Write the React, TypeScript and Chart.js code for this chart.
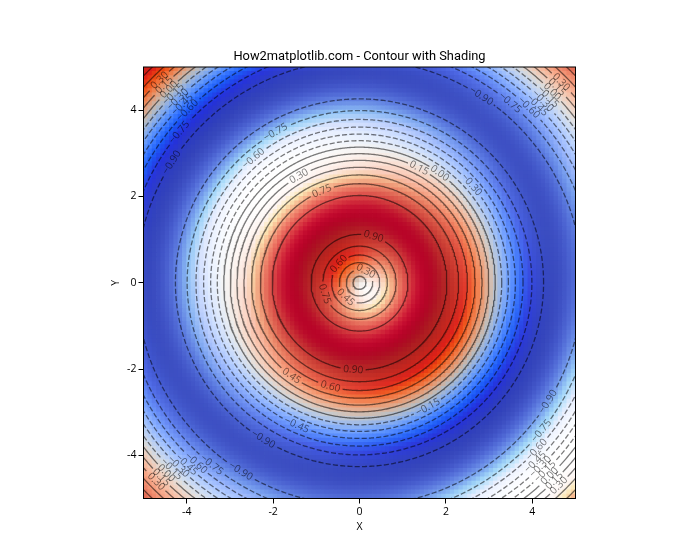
import React, { useEffect, useRef } from "react";
import { Chart, registerables } from "chart.js";

Chart.register(...registerables);

const chartTitle = "How2matplotlib.com - Contour with Shading";
const xAxisTitle = "X";
const yAxisTitle = "Y";
const tickValues = [-4, -2, 0, 2, 4];

// Height of the surface against distance from the centre, read every 0.1 unit.
const profileStep = 0.1;
const profileValues = [
  0, 0.0998, 0.1987, 0.2955, 0.3894, 0.4794, 0.5646, 0.6442, 0.7174, 0.7833,
  0.8415, 0.8912, 0.932, 0.9636, 0.9854, 0.9975, 0.9996, 0.9917, 0.9738, 0.9463,
  0.9093, 0.8632, 0.8085, 0.7457, 0.6755, 0.5985, 0.5155, 0.4274, 0.335, 0.2392,
  0.1411, 0.0416, -0.0584, -0.1577, -0.2555, -0.3508, -0.4425, -0.5298, -0.6119, -0.6878,
  -0.7568, -0.8183, -0.8716, -0.9162, -0.9516, -0.9775, -0.9937, -0.9999, -0.9962, -0.9825,
  -0.9589, -0.9258, -0.8835, -0.8323, -0.7728, -0.7055, -0.6313, -0.5507, -0.4646, -0.3739,
  -0.2794, -0.1822, -0.0831, 0.0168, 0.1165, 0.2151, 0.3115, 0.4048, 0.4941, 0.5784,
  0.657, 0.729, 0.7937,
];

// Colour ramp stops (33 evenly spaced stops).
const rampRed = [
  0.23, 0.266, 0.304, 0.343, 0.383, 0.424, 0.467, 0.51, 0.553, 0.596, 0.639,
  0.681, 0.722, 0.761, 0.799, 0.833, 0.865, 0.898, 0.924, 0.944, 0.959, 0.967,
  0.97, 0.967, 0.958, 0.944, 0.924, 0.899, 0.869, 0.835, 0.796, 0.753, 0.706,
];
const rampGreen = [
  0.299, 0.353, 0.407, 0.459, 0.509, 0.558, 0.605, 0.648, 0.689, 0.726, 0.76,
  0.789, 0.814, 0.834, 0.85, 0.86, 0.865, 0.849, 0.827, 0.801, 0.77, 0.734,
  0.694, 0.65, 0.603, 0.552, 0.497, 0.44, 0.378, 0.313, 0.241, 0.157, 0.016,
];
const rampBlue = [
  0.754, 0.801, 0.845, 0.884, 0.917, 0.946, 0.968, 0.985, 0.995, 1.0, 0.998,
  0.99, 0.977, 0.957, 0.932, 0.901, 0.865, 0.821, 0.775, 0.727, 0.678, 0.629,
  0.579, 0.53, 0.482, 0.434, 0.388, 0.343, 0.3, 0.259, 0.221, 0.184, 0.15,
];

// Contour rings: level and the radius where each one crosses.
const ringLevels = [
  0.15, 0.15, 0.15, 0.3, 0.3, 0.3, 0.45, 0.45, 0.45, 0.6, 0.6, 0.6, 0.75, 0.75, 0.9, 0.9,
  0, 0, -0.15, -0.15, -0.3, -0.3, -0.45, -0.45, -0.6, -0.6, -0.75, -0.75, -0.9, -0.9,
];
const ringRadii = [
  0.151, 2.991, 6.434, 0.305, 2.837, 6.588, 0.467, 2.675, 6.75, 0.644, 2.498, 6.927, 0.848, 2.294, 1.12, 2.022,
  3.142, 6.283, 3.292, 6.133, 3.446, 5.979, 3.608, 5.817, 3.785, 5.64, 3.99, 5.435, 4.261, 5.163,
];

// Contour labels: text, ring radius, direction from centre (degrees, anticlockwise from +X).
const labelTexts = [
  "0.30", "0.15", "0.00", "\u22120.15", "\u22120.30", "\u22120.45", "\u22120.60", "\u22120.75", "\u22120.90",
  "0.30", "0.15", "0.00", "\u22120.15", "\u22120.30", "\u22120.45", "\u22120.60", "\u22120.75", "\u22120.90",
  "0.30", "0.15", "0.00", "\u22120.15", "\u22120.30", "\u22120.45", "\u22120.60", "\u22120.75", "\u22120.90",
  "0.30", "0.15", "0.00", "\u22120.15", "\u22120.30", "\u22120.45", "\u22120.60", "\u22120.75", "\u22120.90",
  "\u22120.75", "\u22120.60", "0.30", "0.75", "0.15", "0.00", "\u22120.30", "0.90", "0.30", "0.60", "0.75", "0.45",
  "0.90", "0.45", "0.60", "\u22120.45", "\u22120.90", "\u22120.15",
];
const labelRadii = [
  6.588, 6.434, 6.283, 6.133, 5.979, 5.817, 5.64, 5.435, 5.163,
  6.588, 6.434, 6.283, 6.133, 5.979, 5.817, 5.64, 5.435, 5.163,
  6.588, 6.434, 6.283, 6.133, 5.979, 5.817, 5.64, 5.435, 5.163,
  6.588, 6.434, 6.283, 6.133, 5.979, 5.817, 5.64, 5.435, 5.163,
  3.99, 3.785, 2.837, 2.294, 2.991, 3.142, 3.446, 1.12, 0.305, 0.644, 0.848, 0.467,
  2.022, 2.675, 2.498, 3.608, 4.261, 3.292,
];
const labelAngles = [
  134.6, 134.6, 134.6, 134.6, 134.7, 134.8, 134.9, 140.1, 147.3,
  44.9, 44.8, 44.8, 44.6, 44.8, 45, 46, 50.1, 56.9,
  224.4, 224.5, 224.6, 224.8, 225.5, 226.5, 227.9, 231, 237.8,
  -45.5, -45.5, -45.5, -45.5, -45.5, -45.6, -43.3, -39.2, -32.3,
  119.1, 130.4, 119.6, 112.3, 62.6, 53.8, 41.2, 73.2, 62, 137.4, 198, 226.4,
  265.9, 233.9, 254.4, 246.2, 238.4, 298.8,
];

const FONT = '"Open Sans", "Noto Sans", sans-serif';
const TITLE_FONT = 'Roboto, "Open Sans", sans-serif';
const CELLS = 100;
const UNIT_PX = 43.2;
const LINE_COLOR = "rgba(0,0,0,0.52)";
const LABEL_COLOR = "rgba(0,0,0,0.55)";

function profileAt(r: number) {
  const p = r / profileStep;
  const i = Math.min(Math.floor(p), profileValues.length - 2);
  return profileValues[i] + (profileValues[i + 1] - profileValues[i]) * (p - i);
}

function rampAt(stops: number[], t: number) {
  const p = Math.max(0, Math.min(1, t)) * (stops.length - 1);
  const i = Math.min(Math.floor(p), stops.length - 2);
  return stops[i] + (stops[i + 1] - stops[i]) * (p - i);
}

function buildCells() {
  const heights: number[][] = [];
  for (let row = 0; row < CELLS; row++) {
    const line: number[] = [];
    for (let col = 0; col < CELLS; col++) {
      const gx = -5 + (col * 10) / (CELLS - 1);
      const gy = 5 - (row * 10) / (CELLS - 1);
      line.push(profileAt(Math.hypot(gx, gy)));
    }
    heights.push(line);
  }
  const lit: number[][] = [];
  let lo = Infinity;
  let hi = -Infinity;
  for (let row = 0; row < CELLS; row++) {
    const line: number[] = [];
    for (let col = 0; col < CELLS; col++) {
      const cA = Math.max(col - 1, 0);
      const cB = Math.min(col + 1, CELLS - 1);
      const rA = Math.max(row - 1, 0);
      const rB = Math.min(row + 1, CELLS - 1);
      const dc = (heights[row][cB] - heights[row][cA]) / (cB - cA);
      const dr = (heights[rB][col] - heights[rA][col]) / (rB - rA);
      const v = (0.5 * dc + 0.5 * dr + Math.SQRT1_2) / Math.sqrt(1 + dc * dc + dr * dr);
      lo = Math.min(lo, v);
      hi = Math.max(hi, v);
      line.push(v);
    }
    lit.push(line);
  }
  const points: { x: number; y: number }[] = [];
  const colors: string[] = [];
  const blend = (c: number, s: number) =>
    c <= 0.5 ? 2 * s * c : 1 - 2 * (1 - s) * (1 - c);
  for (let row = 0; row < CELLS; row++) {
    for (let col = 0; col < CELLS; col++) {
      points.push({ x: -4.95 + col * 0.1, y: 4.95 - row * 0.1 });
      const t = (heights[row][col] + 1) / 2;
      const s = (lit[row][col] - lo) / (hi - lo);
      const r = blend(rampAt(rampRed, t), s);
      const g = blend(rampAt(rampGreen, t), s);
      const b = blend(rampAt(rampBlue, t), s);
      colors.push(
        `rgb(${Math.round(r * 255)},${Math.round(g * 255)},${Math.round(b * 255)})`
      );
    }
  }
  return { points, colors };
}

function buildRing(radius: number, gapWidth: (text: string) => number) {
  const gaps: { az: number; half: number }[] = [];
  labelTexts.forEach((text, i) => {
    if (labelRadii[i] === radius) {
      gaps.push({
        az: labelAngles[i],
        half: ((gapWidth(text) / 2 + 2) / (radius * UNIT_PX)) * (180 / Math.PI),
      });
    }
  });
  const pts: { x: number; y: number }[] = [];
  const step = radius < 1.5 ? 2 : 0.5;
  let open = true;
  for (let a = 0; a <= 360; a += step) {
    const hidden = gaps.some((g) => {
      const d = Math.abs(((a - g.az + 540) % 360) - 180);
      return d < g.half;
    });
    if (hidden) {
      if (open) pts.push({ x: NaN, y: NaN });
      open = false;
      continue;
    }
    open = true;
    const rad = (a * Math.PI) / 180;
    pts.push({ x: radius * Math.cos(rad), y: radius * Math.sin(rad) });
  }
  return pts;
}

const framePlugin = {
  id: "frameAndLabels",
  afterDatasetsDraw(chart: any) {
    const { ctx, chartArea, scales } = chart;
    ctx.save();
    ctx.beginPath();
    ctx.rect(chartArea.left, chartArea.top, chartArea.width, chartArea.height);
    ctx.clip();
    ctx.font = `10.2px ${FONT}`;
    ctx.fillStyle = LABEL_COLOR;
    ctx.textAlign = "center";
    ctx.textBaseline = "middle";
    labelTexts.forEach((text, i) => {
      const rad = (labelAngles[i] * Math.PI) / 180;
      const px = scales.x.getPixelForValue(labelRadii[i] * Math.cos(rad));
      const py = scales.y.getPixelForValue(labelRadii[i] * Math.sin(rad));
      let rot = -(labelAngles[i] + 90);
      while (rot <= -90) rot += 180;
      while (rot > 90) rot -= 180;
      ctx.save();
      ctx.translate(px, py);
      ctx.rotate((rot * Math.PI) / 180);
      ctx.fillText(text, 0, 0);
      ctx.restore();
    });
    ctx.restore();
    ctx.save();
    ctx.strokeStyle = "#000";
    ctx.lineWidth = 1;
    ctx.strokeRect(chartArea.left, chartArea.top, chartArea.width, chartArea.height);
    ctx.restore();
  },
};

export default function App() {
  const ref = useRef<HTMLCanvasElement>(null);
  useEffect(() => {
    const canvas = ref.current!;
    const measure = canvas.getContext("2d")!;
    measure.font = `10.2px ${FONT}`;
    const gapWidth = (t: string) => measure.measureText(t).width;
    const cells = buildCells();
    const ringSets = ringRadii.map((radius, i) => ({
      type: "scatter" as const,
      data: buildRing(radius, gapWidth),
      showLine: true,
      spanGaps: false,
      pointRadius: 0,
      borderColor: LINE_COLOR,
      borderWidth: 1.3,
      borderDash: ringLevels[i] < 0 ? [5.1, 2.2] : [],
      order: 1,
    }));
    const axis = (title: string, titlePadding: any, size: number, key: "width" | "height") => ({
      type: "linear" as const,
      min: -5,
      max: 5,
      afterBuildTicks: (s: any) => {
        s.ticks = tickValues.map((value) => ({ value }));
      },
      afterFit: (s: any) => {
        s[key] = size;
      },
      ticks: {
        color: "#000",
        font: { family: FONT, size: 10.5 },
        padding: 2,
        maxRotation: 0,
        callback: (v: any) => String(v),
      },
      grid: { drawOnChartArea: false, drawTicks: true, tickLength: 5, color: "#000" },
      border: { display: false },
      title: {
        display: true,
        text: title,
        color: "#000",
        font: { family: FONT, size: 10.5 },
        padding: titlePadding,
      },
    });
    const chart = new Chart(canvas, {
      type: "scatter",
      data: {
        datasets: [
          {
            data: cells.points,
            pointStyle: "rect",
            pointRadius: 3.6,
            pointHoverRadius: 3.6,
            pointBorderWidth: 0,
            pointBackgroundColor: cells.colors,
            order: 10,
          },
          ...ringSets,
        ] as any,
      },
      options: {
        responsive: false,
        animation: false,
        layout: { padding: { left: 19, right: 0, top: 49.3, bottom: 0 } },
        events: [],
        plugins: {
          legend: { display: false },
          tooltip: { enabled: false },
          title: {
            display: true,
            text: chartTitle,
            color: "#000",
            font: { family: TITLE_FONT, size: 12.85, weight: "normal" },
            padding: { top: 0, bottom: 2.28 },
          },
        },
        scales: {
          x: axis(xAxisTitle, { top: 0, bottom: 27 }, 61.5, "height"),
          y: axis(yAxisTitle, { top: 91, bottom: 0 }, 124.5, "width"),
          rightSpacer: {
            type: "linear",
            position: "right",
            display: true,
            min: -5,
            max: 5,
            afterFit: (s: any) => {
              s.width = 124.5;
            },
            ticks: { display: false },
            grid: { display: false },
            border: { display: false },
          },
        },
      } as any,
      plugins: [framePlugin],
    });
    return () => chart.destroy();
  }, []);
  return (
    <div style={{ position: "absolute", left: 0, top: 0, background: "#fff" }}>
      <canvas ref={ref} width={700} height={560} style={{ display: "block" }} />
    </div>
  );
}
